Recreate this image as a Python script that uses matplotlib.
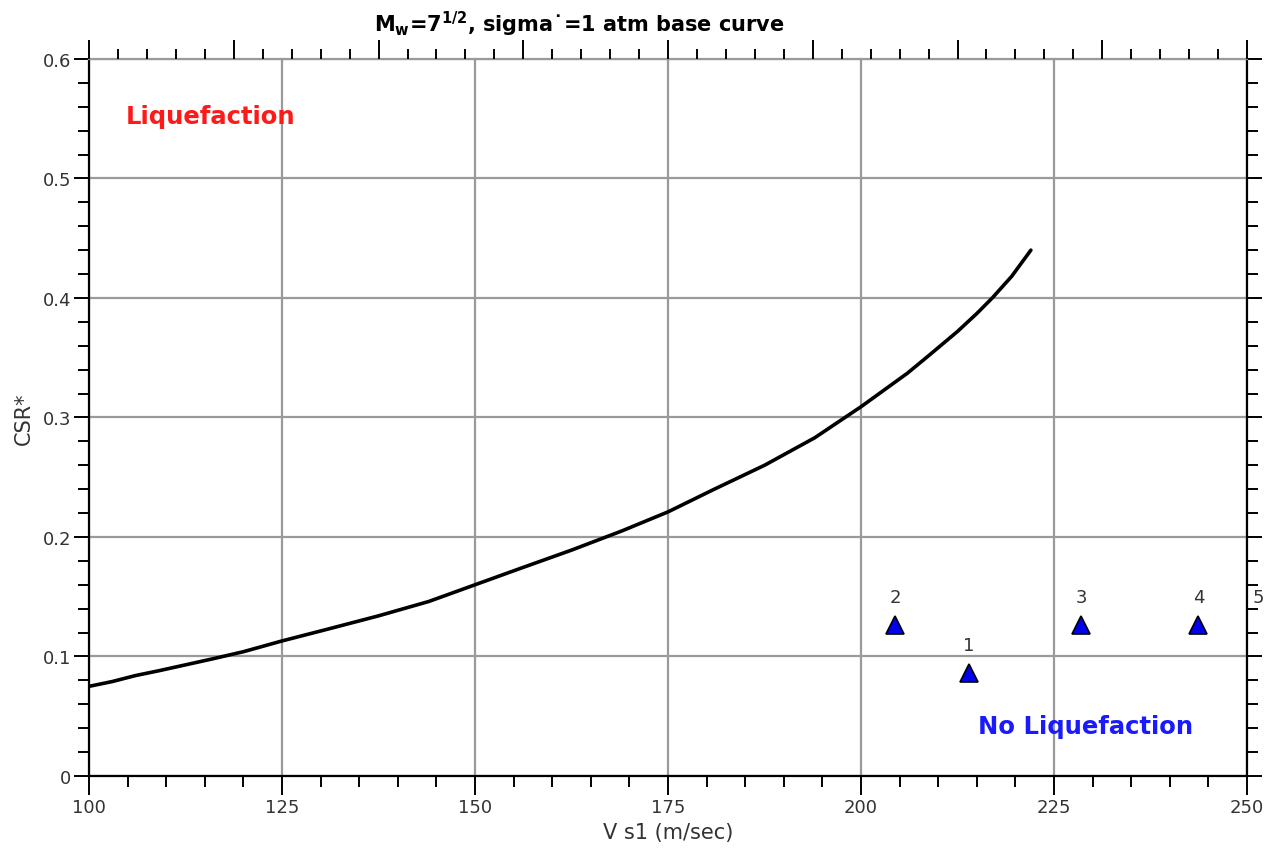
import matplotlib.pyplot as plt
from matplotlib.ticker import MultipleLocator, NullFormatter

plt.rcParams["mathtext.default"] = "regular"

# ── base curve ───────────────────────────────────────────────────────────────
vs1 = [100, 103, 106, 109, 112.5, 116, 120, 125, 131, 137.5, 144, 150, 156, 162.5,
       169, 175, 181, 187.5, 194, 200, 206, 209, 212.5, 215, 217, 219.5, 222]
csr = [0.075, 0.079, 0.084, 0.088, 0.093, 0.098, 0.104, 0.113, 0.123, 0.134, 0.146,
       0.160, 0.174, 0.189, 0.205, 0.221, 0.240, 0.260, 0.283, 0.309, 0.337, 0.353,
       0.372, 0.387, 0.400, 0.418, 0.440]

# ── site points ──────────────────────────────────────────────────────────────
pt_labels = ["1", "2", "3", "4", "5"]
pt_vs1 = [214.0, 204.4, 228.5, 243.7, 251.5]
pt_csr = [0.086, 0.126, 0.126, 0.126, 0.126]

fig = plt.figure(figsize=(12.76, 8.54), dpi=100)
ax = fig.add_axes([0.0698, 0.0902, 0.9075, 0.8396])

ax.set_xlim(100, 250)
ax.set_ylim(0, 0.6)

ax.xaxis.set_major_locator(MultipleLocator(25))
ax.xaxis.set_minor_locator(MultipleLocator(5))
ax.set_yticks([0, 0.1, 0.2, 0.3, 0.4, 0.5, 0.6])
ax.set_yticklabels(["0", "0.1", "0.2", "0.3", "0.4", "0.5", "0.6"])
ax.yaxis.set_minor_locator(MultipleLocator(0.02))

ax.grid(True, which="major", color="#9a9a9a", linewidth=1.6, zorder=0)
ax.set_axisbelow(True)

ax.tick_params(axis="x", which="major", direction="out", length=14, width=1.4,
               labelsize=13, labelcolor="#333333", pad=2)
ax.tick_params(axis="x", which="minor", direction="out", length=8, width=1.4)
ax.tick_params(axis="y", which="major", direction="out", length=11, width=1.4,
               left=True, right=True, labelsize=13, labelcolor="#333333", pad=2)
ax.tick_params(axis="y", which="minor", direction="out", length=8, width=1.4,
               left=True, right=True)

for side in ["left", "right", "bottom"]:
    ax.spines[side].set_linewidth(1.6)
    ax.spines[side].set_color("black")
ax.spines["top"].set_color("#9a9a9a")
ax.spines["top"].set_linewidth(1.6)

# top axis: unlabeled scale with 8 divisions
top = ax.twiny()
top.set_xlim(0, 8)
top.xaxis.set_major_locator(MultipleLocator(1))
top.xaxis.set_minor_locator(MultipleLocator(0.2))
top.xaxis.set_major_formatter(NullFormatter())
top.tick_params(axis="x", which="major", direction="out", length=14, width=1.4)
top.tick_params(axis="x", which="minor", direction="out", length=7, width=1.4)
top.tick_params(axis="y", which="both", left=False, right=False,
                labelleft=False, labelright=False)
for s in top.spines.values():
    s.set_visible(False)

ax.plot(vs1, csr, color="black", linewidth=2.6, solid_capstyle="round",
        solid_joinstyle="round", zorder=3)

ax.plot(pt_vs1, pt_csr, linestyle="none", marker="^", markersize=13,
        markerfacecolor="#0000ee", markeredgecolor="black", markeredgewidth=1.2, zorder=4)
for lab, x, y in zip(pt_labels, pt_vs1, pt_csr):
    ax.annotate(lab, (x, y), xytext=(0, 14), textcoords="offset points",
                ha="center", va="bottom", fontsize=13, color="#333333",
                annotation_clip=False)

ax.text(104.7, 0.552, "Liquefaction", color="#ff1a1a", fontsize=17.5,
        fontweight="bold", va="center", ha="left")
ax.text(215.1, 0.042, "No Liquefaction", color="#1a1aff", fontsize=17.5,
        fontweight="bold", va="center", ha="left")

ax.set_xlabel("V s1 (m/sec)", fontsize=15, color="#333333", labelpad=4)
ax.set_ylabel("CSR*", fontsize=15, color="#333333", labelpad=6)

fig.text(0.454, 0.972, "M$_w$=7$^{1/2}$, sigma\u02d9=1 atm base curve",
         ha="center", va="center", fontsize=15, fontweight="bold")

fig.savefig("out.png", dpi=100)
